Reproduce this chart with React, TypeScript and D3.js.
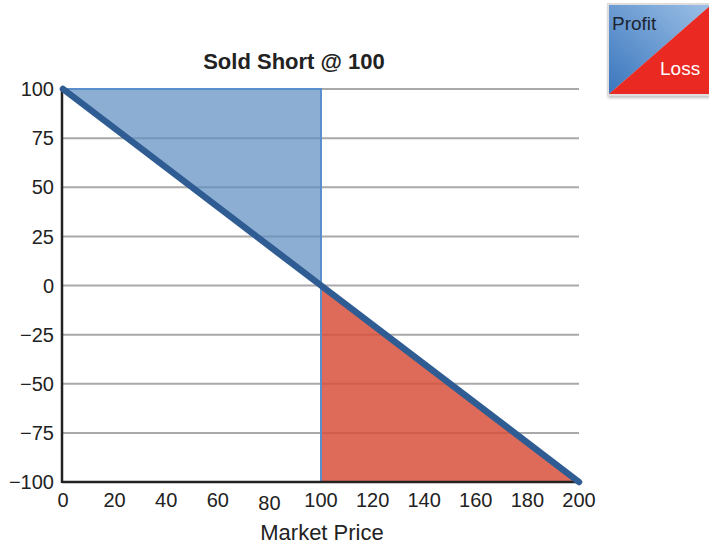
import React from "react";
import * as d3 from "d3";

const prices = [0, 100, 200];
const payoff = [100, 0, -100];
const yTicks = [100, 75, 50, 25, 0, -25, -50, -75, -100];
const xTicks = [0, 20, 40, 60, 80, 100, 120, 140, 160, 180, 200];
const title = "Sold Short @ 100";
const xLabel = "Market Price";
const strike = 100;

export default function App() {
  const width = 709;
  const height = 545;
  const x = d3.scaleLinear().domain([0, 200]).range([63, 579]);
  const y = d3.scaleLinear().domain([-100, 100]).range([482, 89]);

  const pts: [number, number][] = prices.map((p, i) => [p, payoff[i]]);
  const line = d3
    .line<[number, number]>()
    .x((d) => x(d[0]))
    .y((d) => y(d[1]));

  // profit region: between the payoff line and the top, left of the strike
  const profit: [number, number][] = [
    [0, 100],
    [strike, 100],
    [strike, 0],
  ];
  // loss region: below the payoff line, right of the strike
  const loss: [number, number][] = [
    [strike, 0],
    [200, -100],
    [strike, -100],
  ];
  const poly = (arr: [number, number][]) => line(arr) + "Z";

  const font = "'Liberation Sans', Arial, sans-serif";

  return (
    <svg
      width={width}
      height={height}
      style={{ position: "absolute", left: 0, top: 0, background: "#fff" }}
      fontFamily={font}
    >
      <defs>
        <linearGradient id="legBlue" x1="0" y1="1" x2="1" y2="0">
          <stop offset="0" stopColor="#3a76bd" />
          <stop offset="1" stopColor="#9cc0e6" />
        </linearGradient>
        <filter id="legShadow" x="-10%" y="-10%" width="130%" height="130%">
          <feDropShadow dx="1" dy="2" stdDeviation="1.5" floodColor="#000" floodOpacity="0.25" />
        </filter>
      </defs>

      {/* gridlines */}
      {yTicks.map((t) => (
        <line
          key={"g" + t}
          x1={x(0)}
          x2={x(200)}
          y1={y(t)}
          y2={y(t)}
          stroke="#a9a9a9"
          strokeWidth={2}
        />
      ))}

      {/* shaded regions */}
      <path
        d={poly(profit)}
        fill="#5f8fc0"
        fillOpacity={0.72}
        stroke="#5b8fcb"
        strokeWidth={2}
      />
      <path
        d={poly(loss)}
        fill="#d8503c"
        fillOpacity={0.85}
        stroke="#5b8fcb"
        strokeWidth={2}
      />

      {/* axes */}
      <line x1={x(0) - 1} x2={x(0) - 1} y1={y(100)} y2={y(-100) + 1} stroke="#222" strokeWidth={2.5} />
      <line x1={x(0) - 1} x2={x(200)} y1={y(-100)} y2={y(-100)} stroke="#222" strokeWidth={2.5} />

      {/* payoff line */}
      <path d={line(pts) || ""} fill="none" stroke="#2f5d93" strokeWidth={6.5} strokeLinecap="round" />

      {/* y tick labels */}
      {yTicks.map((t) => (
        <text
          key={"y" + t}
          x={x(0) - 9}
          y={y(t)}
          dy="0.36em"
          textAnchor="end"
          fontSize={20}
          fill="#222"
        >
          {t < 0 ? "\u2212" + Math.abs(t) : t}
        </text>
      ))}

      {/* x tick labels */}
      {xTicks.map((t) => (
        <text
          key={"x" + t}
          x={x(t)}
          y={t === 80 ? 510 : 507}
          textAnchor="middle"
          fontSize={20}
          fill="#222"
        >
          {t}
        </text>
      ))}

      <text x={294} y={69} textAnchor="middle" fontSize={22} fontWeight="bold" fill="#222">
        {title}
      </text>
      <text x={322} y={540} textAnchor="middle" fontSize={22} fill="#222">
        {xLabel}
      </text>

      {/* legend */}
      <g filter="url(#legShadow)">
        <rect x={607} y={3} width={104} height={93} fill="#ddd" />
        <polygon points="609,5 711,5 609,94" fill="url(#legBlue)" />
        <polygon points="711,5 711,94 609,94" fill="#ea2b22" />
      </g>
      <text x={612} y={30} fontSize={19} fill="#1c2530">
        Profit
      </text>
      <text x={660} y={75} fontSize={19} fill="#fff">
        Loss
      </text>
    </svg>
  );
}
